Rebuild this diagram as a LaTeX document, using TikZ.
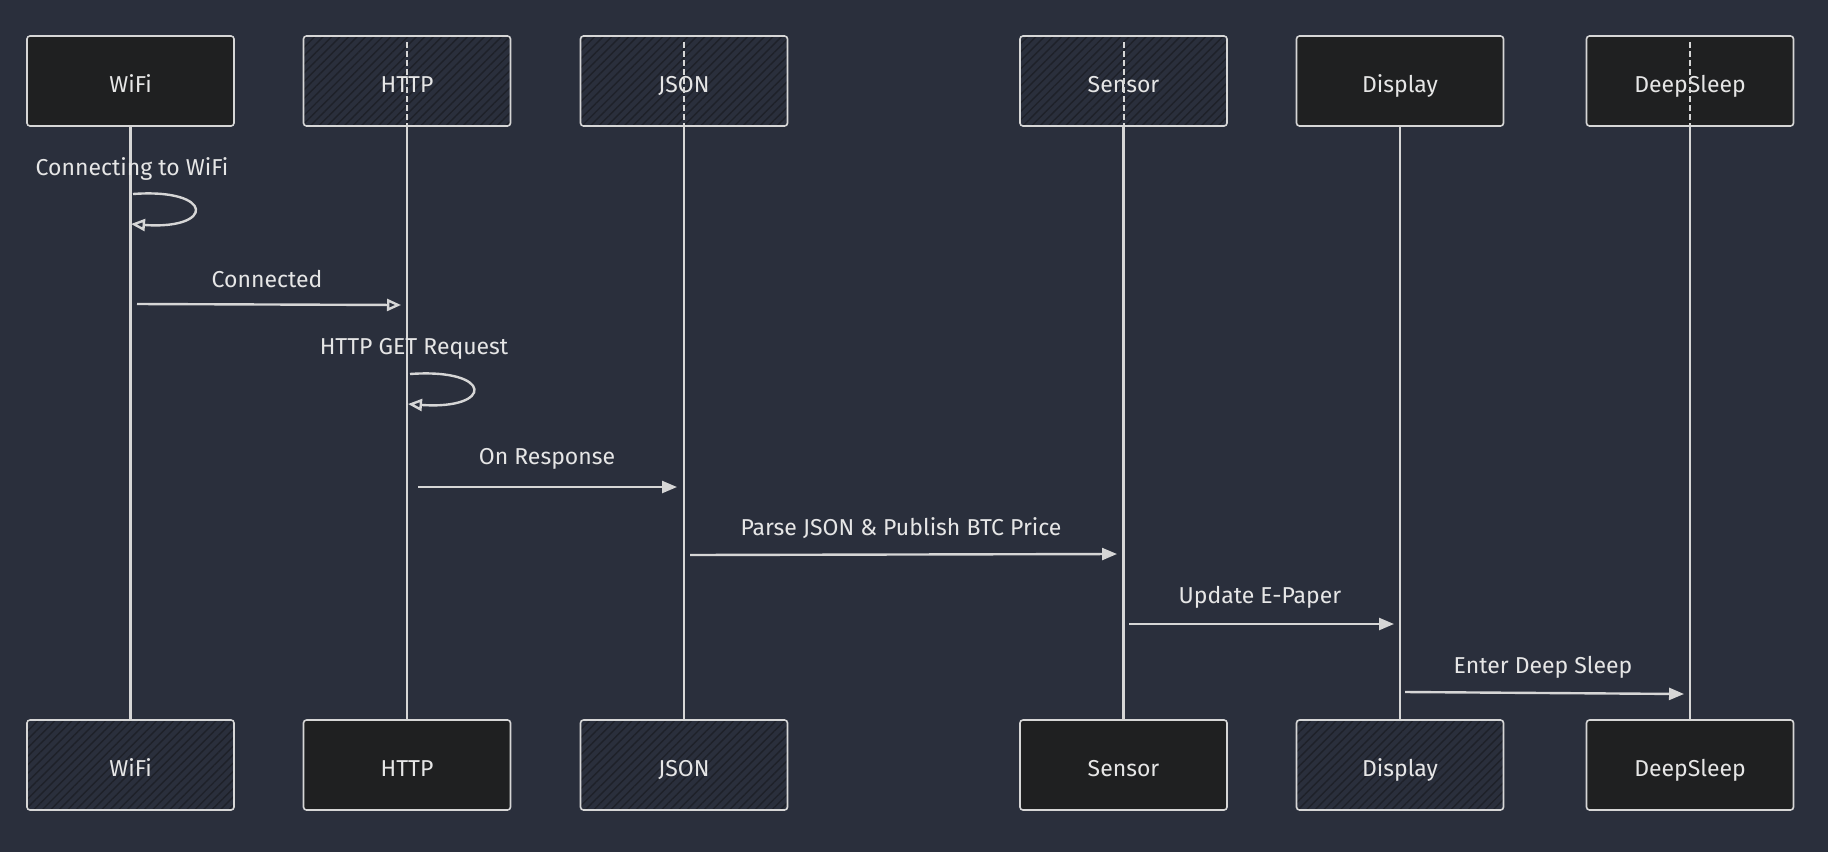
\documentclass[tikz,border=0pt]{standalone}
\usepackage{fontspec}
\setmainfont{Fira Sans}
\usetikzlibrary{arrows.meta,patterns.meta}
\definecolor{bgc}{HTML}{2A2F3C}
\definecolor{boxfill}{HTML}{1F2021}
\definecolor{hatchc}{HTML}{1E2129}
\definecolor{linec}{HTML}{D6D6D6}
\definecolor{textc}{HTML}{E6E6E6}
\tikzset{
  actor/.style={draw=linec, line width=1.6pt, rounded corners=3pt, minimum width=207pt, minimum height=90pt, text=textc, font=\fontsize{23}{27}\selectfont, inner sep=0pt, text height=22pt, text depth=0pt},
  solidbox/.style={actor, fill=boxfill},
  hatchbox/.style={actor, pattern={Lines[angle=45,distance=6pt,line width=1.4pt]}, pattern color=hatchc},
  lifeline/.style={draw=linec, line width=2.6pt},
  inboxdash/.style={draw=linec, line width=2pt, dash pattern=on 6pt off 3pt},
  msg/.style={draw=linec, line width=2.4pt, -{Triangle[length=15pt,width=12pt]}},
  openmsg/.style={draw=linec, line width=2.4pt, -{Triangle[open,length=14pt,width=12pt]}},
  lbl/.style={text=textc, font=\fontsize{23}{27}\selectfont, inner sep=0pt}
}
\begin{document}
\begin{tikzpicture}[x=1pt,y=-1pt]
\fill[bgc] (0,0) rectangle (1828,852);
\useasboundingbox (0,0) rectangle (1828,852);
% top actors
\node[solidbox] (wifiT) at (130.5,81) {WiFi};
\node[hatchbox] (httpT) at (407,81) {HTTP};
\node[hatchbox] (jsonT) at (684,81) {JSON};
\node[hatchbox] (sensT) at (1123.5,81) {Sensor};
\node[solidbox] (dispT) at (1400,81) {Display};
\node[solidbox] (deepT) at (1690,81) {DeepSleep};
% bottom actors
\node[hatchbox] (wifiB) at (130.5,765) {WiFi};
\node[solidbox] (httpB) at (407,765) {HTTP};
\node[hatchbox] (jsonB) at (684,765) {JSON};
\node[solidbox] (sensB) at (1123.5,765) {Sensor};
\node[hatchbox] (dispB) at (1400,765) {Display};
\node[solidbox] (deepB) at (1690,765) {DeepSleep};
% dashed lifeline parts inside top boxes
\foreach \n in {httpT,jsonT,sensT,deepT}{
  \draw[inboxdash] ([yshift=-7pt]\n.north) -- (\n.south);
}
% lifelines
\draw[lifeline] (wifiT.south) -- (wifiB.north);
\draw[lifeline] (httpT.south) -- (httpB.north);
\draw[lifeline] (jsonT.south) -- (jsonB.north);
\draw[lifeline] (sensT.south) -- (sensB.north);
\draw[lifeline] (dispT.south) -- (dispB.north);
\draw[lifeline] (deepT.south) -- (deepB.north);
% self loop WiFi
\node[lbl] (l1) at (132,169) {Connecting to WiFi};
\coordinate (s1a) at (133,194);
\coordinate (s1b) at (131,224);
\draw[openmsg] (s1a) .. controls (215,188) and (215,230) .. (s1b);
% Connected
\node[lbl] (l2) at (267,279) {Connected};
\coordinate (m2a) at (137,304);
\coordinate (m2b) at (401,305);
\draw[openmsg] (m2a) -- (m2b);
% HTTP GET loop
\node[lbl] (l3) at (414,349) {HTTP GET Request};
\coordinate (s3a) at (410,374);
\coordinate (s3b) at (408,404);
\draw[openmsg] (s3a) .. controls (494,368) and (494,410) .. (s3b);
% On Response
\node[lbl] (l4) at (547,459) {On Response};
\coordinate (m4a) at (418,487);
\coordinate (m4b) at (677,487);
\draw[msg] (m4a) -- (m4b);
% Parse JSON
\node[lbl] (l5) at (901,528) {Parse JSON \& Publish BTC Price};
\coordinate (m5a) at (690,555);
\coordinate (m5b) at (1117,554);
\draw[msg] (m5a) -- (m5b);
% Update E-Paper
\node[lbl] (l6) at (1260,597) {Update E-Paper};
\coordinate (m6a) at (1129,624);
\coordinate (m6b) at (1394,624);
\draw[msg] (m6a) -- (m6b);
% Enter Deep Sleep
\node[lbl] (l7) at (1543,667) {Enter Deep Sleep};
\coordinate (m7a) at (1405,692);
\coordinate (m7b) at (1684,694);
\draw[msg] (m7a) -- (m7b);
\end{tikzpicture}
\end{document}
